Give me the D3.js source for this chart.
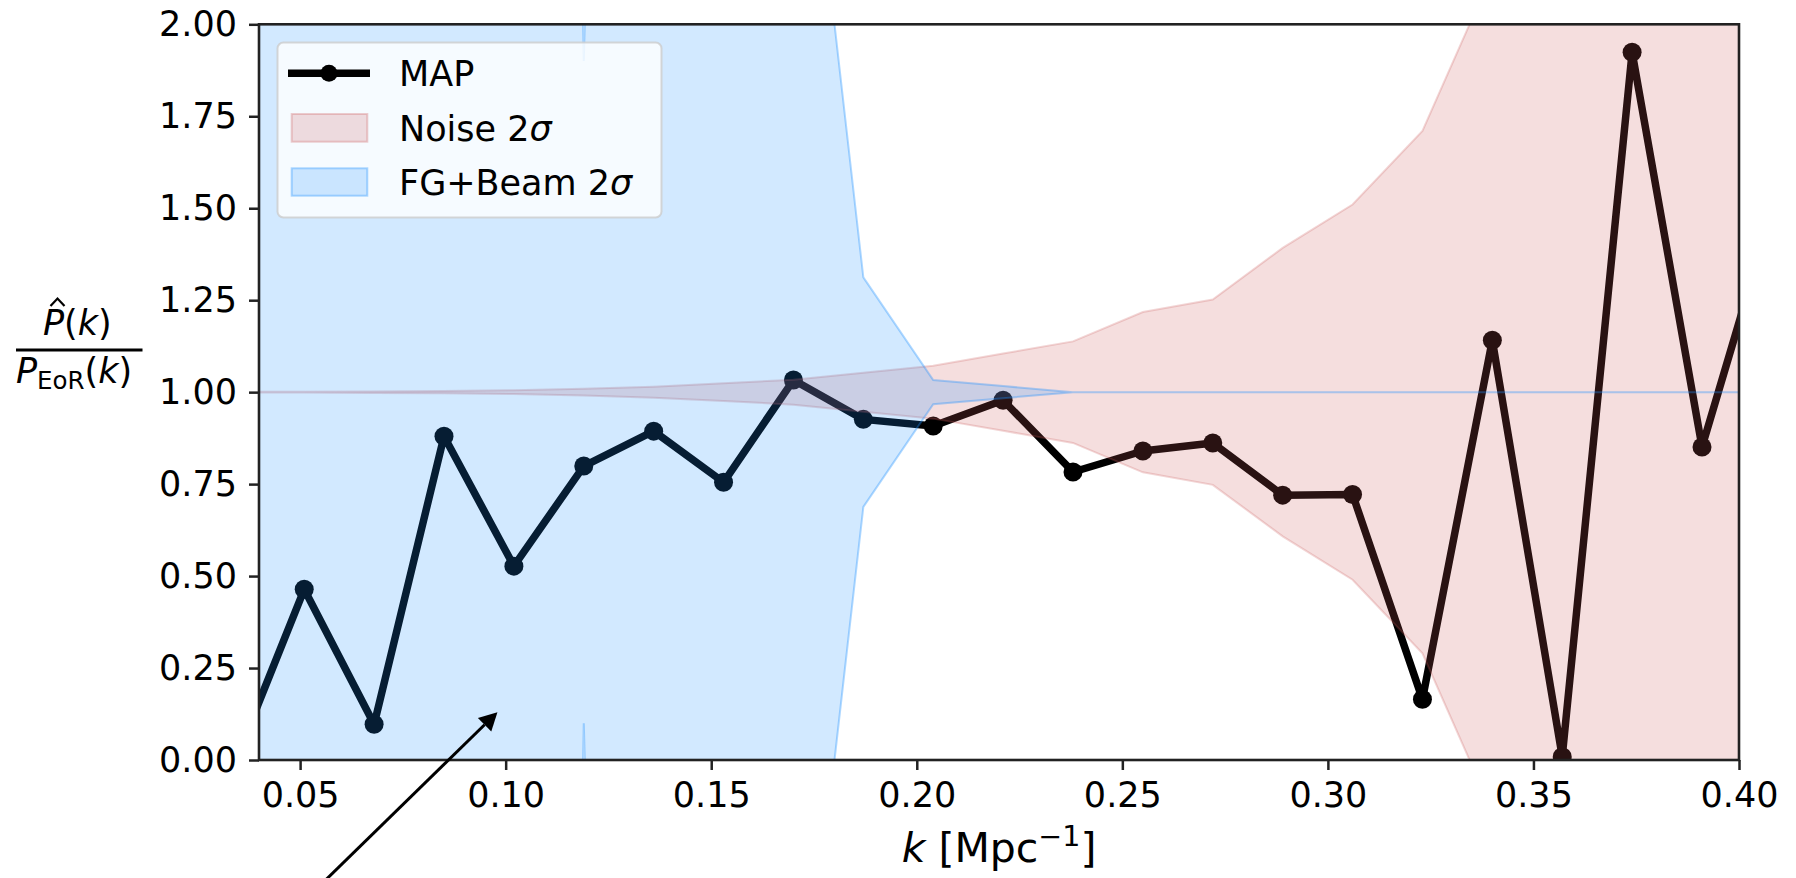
<!DOCTYPE html>
<html>
<head>
<meta charset="utf-8">
<script src="https://cdn.jsdelivr.net/npm/d3@7"></script>
<style>
  html, body { margin: 0; padding: 0; background: #ffffff; }
  svg { display: block; font-family: "DejaVu Sans", sans-serif; }
</style>
</head>
<body>
<svg id="chart" width="1796" height="878"></svg>
<script>
// Power-spectrum ratio per k bin (MAP estimate over the EoR model)
const kValues = [0.034, 0.051, 0.068, 0.085, 0.102, 0.119, 0.136, 0.153, 0.170, 0.187, 0.204, 0.221,
                 0.238, 0.255, 0.272, 0.289, 0.306, 0.323, 0.340, 0.357, 0.374, 0.391, 0.408];
const mapRatio = [-0.01, 0.464, 0.097, 0.880, 0.527, 0.799, 0.894, 0.755, 1.033, 0.926, 0.908, 0.978,
                  0.783, 0.840, 0.862, 0.720, 0.722, 0.165, 1.141, 0.009, 1.924, 0.851, 1.49];
// 2-sigma half widths of the two uncertainty bands around a ratio of 1
const noise2Sigma = [0.001, 0.001, 0.002, 0.003, 0.005, 0.009, 0.015, 0.024, 0.034, 0.053, 0.072, 0.105,
                     0.138, 0.218, 0.252, 0.392, 0.51, 0.71, 1.14, 1.6, 2.2, 2.9, 3.6];
const fgBeam2Sigma = [60, 45, 30, 20, 12, 0.9, 8, 5, 1.98, 0.312, 0.033, 0.0165,
                      0, 0, 0, 0, 0, 0, 0, 0, 0, 0, 0];
const bandCentre = 1.0;

const xTicks = [0.05, 0.10, 0.15, 0.20, 0.25, 0.30, 0.35, 0.40];
const yTicks = [0.00, 0.25, 0.50, 0.75, 1.00, 1.25, 1.50, 1.75, 2.00];
const xDomain = [0.04, 0.40];
const yDomain = [0, 2];
const legendLabels = ["MAP", "Noise 2", "FG+Beam 2"];
const arrowTip = [0.098, 0.13];

const FONT = 35;
const LABEL_FONT = 41;
const plot = { left: 259, right: 1739, top: 24.3, bottom: 760 };
const blue = "#1e90ff", red = "#cd5c5c";

const svg = d3.select("#chart");
const x = d3.scaleLinear().domain(xDomain).range([plot.left, plot.right]);
const y = d3.scaleLinear().domain(yDomain).range([plot.bottom, plot.top]);

svg.append("defs").append("clipPath").attr("id", "plotClip")
  .append("rect")
  .attr("x", plot.left).attr("y", plot.top)
  .attr("width", plot.right - plot.left).attr("height", plot.bottom - plot.top);

const rows = kValues.map((k, i) => ({
  k, v: mapRatio[i], noise: noise2Sigma[i], fg: fgBeam2Sigma[i]
}));

const inner = svg.append("g").attr("clip-path", "url(#plotClip)");

// MAP curve (drawn first so the translucent bands tint it)
inner.append("path")
  .datum(rows)
  .attr("d", d3.line().x(d => x(d.k)).y(d => y(d.v)))
  .attr("fill", "none").attr("stroke", "#000").attr("stroke-width", 7.5)
  .attr("stroke-linejoin", "round");
inner.selectAll("circle.pt").data(rows).join("circle")
  .attr("class", "pt")
  .attr("cx", d => x(d.k)).attr("cy", d => y(d.v)).attr("r", 9.5)
  .attr("fill", "#000");

// Noise band
inner.append("path")
  .datum(rows)
  .attr("d", d3.area().x(d => x(d.k))
    .y0(d => y(bandCentre - d.noise)).y1(d => y(bandCentre + d.noise)))
  .attr("fill", red).attr("fill-opacity", 0.2)
  .attr("stroke", red).attr("stroke-opacity", 0.25).attr("stroke-width", 2);

// Foreground + beam band
inner.append("path")
  .datum(rows)
  .attr("d", d3.area().x(d => x(d.k))
    .y0(d => y(bandCentre - d.fg)).y1(d => y(bandCentre + d.fg)))
  .attr("fill", blue).attr("fill-opacity", 0.2)
  .attr("stroke", blue).attr("stroke-opacity", 0.35).attr("stroke-width", 2);

// Axes
const fmt = d3.format(".2f");
const xAxis = svg.append("g").attr("transform", `translate(0,${plot.bottom})`)
  .call(d3.axisBottom(x).tickValues(xTicks).tickFormat(fmt).tickSize(10).tickPadding(12).tickSizeOuter(0));
const yAxis = svg.append("g").attr("transform", `translate(${plot.left},0)`)
  .call(d3.axisLeft(y).tickValues(yTicks).tickFormat(fmt).tickSize(10).tickPadding(12).tickSizeOuter(0));
[xAxis, yAxis].forEach(g => {
  g.select(".domain").remove();
  g.selectAll(".tick line").attr("stroke", "#222").attr("stroke-width", 2.5);
  g.selectAll(".tick text").attr("fill", "#000")
    .style("font-family", "'DejaVu Sans', sans-serif").style("font-size", FONT + "px");
});

// Frame
svg.append("rect")
  .attr("x", plot.left).attr("y", plot.top)
  .attr("width", plot.right - plot.left).attr("height", plot.bottom - plot.top)
  .attr("fill", "none").attr("stroke", "#222").attr("stroke-width", 2.6);

// Axis titles
const xl = svg.append("text")
  .attr("x", (plot.left + plot.right) / 2).attr("y", 862)
  .attr("text-anchor", "middle").style("font-size", LABEL_FONT + "px").attr("fill", "#000");
xl.append("tspan").style("font-style", "italic").text("k");
xl.append("tspan").text(" [Mpc");
xl.append("tspan").attr("dy", -16).style("font-size", "28.5px").text("\u22121");
xl.append("tspan").attr("dy", 16).text("]");

const yl = svg.append("g").attr("fill", "#000");
const num = yl.append("text").attr("x", 43).attr("y", 335)
  .attr("text-anchor", "start").style("font-size", FONT + "px");
num.append("tspan").style("font-style", "italic").text("P");
num.append("tspan").text("(");
num.append("tspan").style("font-style", "italic").text("k");
num.append("tspan").text(")");
// circumflex over the numerator P
yl.append("path").attr("d", "M50.5,306 L57.5,298.5 L64.5,306")
  .attr("fill", "none").attr("stroke", "#000").attr("stroke-width", 2.2);
yl.append("line").attr("x1", 16).attr("x2", 142.5).attr("y1", 350).attr("y2", 350)
  .attr("stroke", "#000").attr("stroke-width", 3);
const den = yl.append("text").attr("x", 16).attr("y", 383)
  .attr("text-anchor", "start").style("font-size", FONT + "px");
den.append("tspan").style("font-style", "italic").text("P");
den.append("tspan").attr("dy", 6).style("font-size", "24.5px").text("EoR");
den.append("tspan").attr("dy", -6).text("(");
den.append("tspan").style("font-style", "italic").text("k");
den.append("tspan").text(")");

// Legend
const lg = svg.append("g");
lg.append("rect").attr("x", 277.5).attr("y", 42.5).attr("width", 384).attr("height", 175)
  .attr("rx", 6).attr("fill", "#fff").attr("fill-opacity", 0.8)
  .attr("stroke", "#cccccc").attr("stroke-opacity", 0.8).attr("stroke-width", 2);
const rowY = [73.3, 128, 182];
lg.append("line").attr("x1", 288).attr("x2", 370).attr("y1", rowY[0]).attr("y2", rowY[0])
  .attr("stroke", "#000").attr("stroke-width", 7.5);
lg.append("circle").attr("cx", 329).attr("cy", rowY[0]).attr("r", 8.5).attr("fill", "#000");
lg.append("rect").attr("x", 291.7).attr("y", rowY[1] - 14).attr("width", 75.6).attr("height", 27.7)
  .attr("fill", red).attr("fill-opacity", 0.2).attr("stroke", red).attr("stroke-opacity", 0.3).attr("stroke-width", 2);
lg.append("rect").attr("x", 291.7).attr("y", rowY[2] - 13.7).attr("width", 75.6).attr("height", 27.4)
  .attr("fill", blue).attr("fill-opacity", 0.2).attr("stroke", blue).attr("stroke-opacity", 0.35).attr("stroke-width", 2);
legendLabels.forEach((lab, i) => {
  const t = lg.append("text").attr("x", 399).attr("y", rowY[i] + 13)
    .style("font-size", FONT + "px").attr("fill", "#000");
  t.append("tspan").text(lab);
  if (i > 0) t.append("tspan").style("font-style", "italic").text("\u03c3");
});

// Annotation arrow pointing into the foreground-dominated region
const tip = [x(arrowTip[0]), y(arrowTip[1])];
const tail = [tip[0] - 172, tip[1] + 168];
const ang = Math.atan2(tip[1] - tail[1], tip[0] - tail[0]);
const headLen = 18, headHalf = 9.6;
const base = [tip[0] - headLen * Math.cos(ang), tip[1] - headLen * Math.sin(ang)];
svg.append("line").attr("x1", tail[0]).attr("y1", tail[1]).attr("x2", base[0]).attr("y2", base[1])
  .attr("stroke", "#000").attr("stroke-width", 3);
svg.append("path")
  .attr("d", `M${tip[0]},${tip[1]}` +
    `L${base[0] + headHalf * Math.sin(ang)},${base[1] - headHalf * Math.cos(ang)}` +
    `L${base[0] - headHalf * Math.sin(ang)},${base[1] + headHalf * Math.cos(ang)}Z`)
  .attr("fill", "#000");
</script>
</body>
</html>
